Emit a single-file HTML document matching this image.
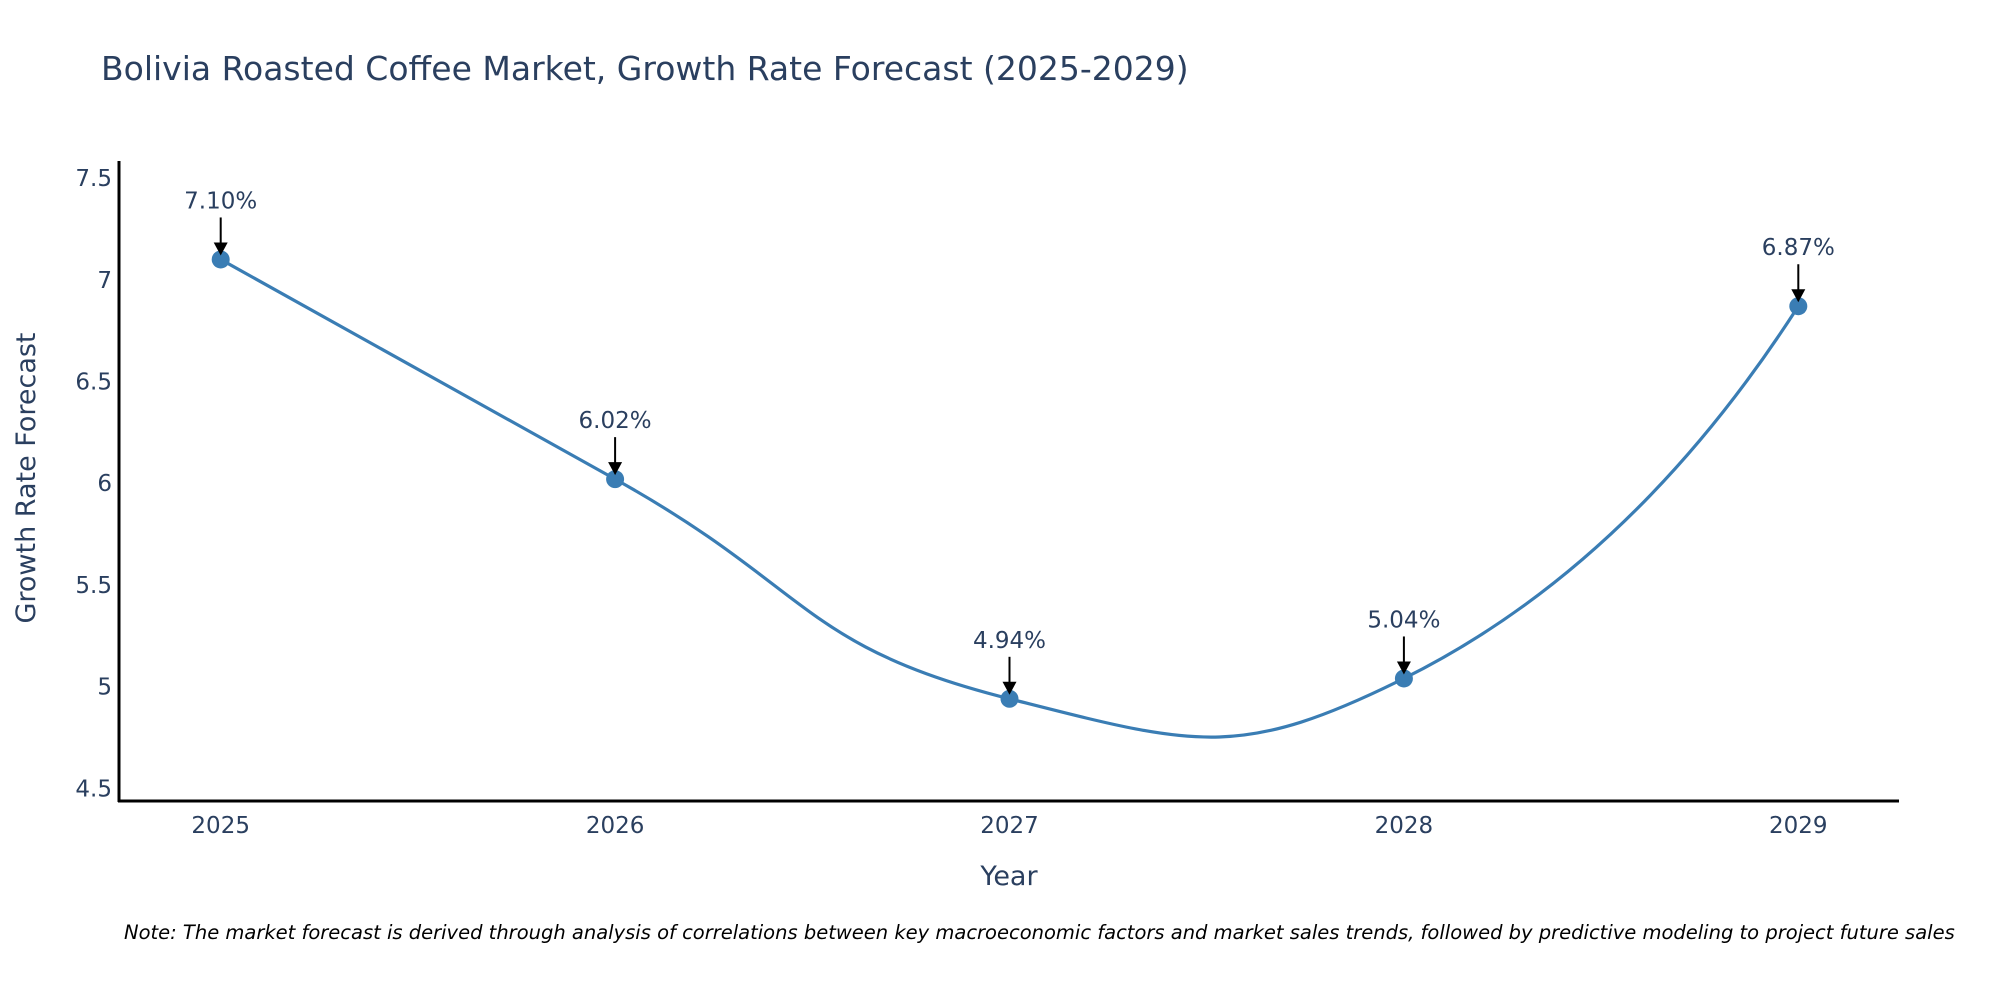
<!DOCTYPE html>
<html><head><meta charset="utf-8"><style>
body{margin:0;background:#fff;}
svg{display:block;font-family:"DejaVu Sans","Liberation Sans",sans-serif;}
</style></head><body>
<svg id="chart" width="2000" height="1000" viewBox="0 0 2000 1000">
<text x="101" y="80" font-size="33" fill="#2a3f5f">Bolivia Roasted Coffee Market, Growth Rate Forecast (2025-2029)</text>
<g id="series"></g>
<g id="annots"></g>
<line x1="119" y1="161" x2="119" y2="802" stroke="#000" stroke-width="3"/>
<line x1="118" y1="801" x2="1899" y2="801" stroke="#000" stroke-width="3"/>
<g id="yticks"></g>
<g id="xticks"></g>
<text x="1009" y="885" font-size="27" fill="#2a3f5f" text-anchor="middle">Year</text>
<text transform="translate(35,478) rotate(-90)" font-size="27" fill="#2a3f5f" text-anchor="middle">Growth Rate Forecast</text>
<text x="124" y="939" font-size="19.5" font-style="italic" fill="#000">Note: The market forecast is derived through analysis of correlations between key macroeconomic factors and market sales trends, followed by predictive modeling to project future sales</text>
</svg>
<script>
const years = [2025, 2026, 2027, 2028, 2029];
const values = [7.10, 6.02, 4.94, 5.04, 6.87];
const valueLabels = ["7.10%", "6.02%", "4.94%", "5.04%", "6.87%"];
const yTicks = [4.5, 5, 5.5, 6, 6.5, 7, 7.5];
const yTickLabels = ["4.5", "5", "5.5", "6", "6.5", "7", "7.5"];

const NS = "http://www.w3.org/2000/svg";
function xScale(y){ return 220.7 + (y - 2025) * 394.4; }
function yScale(v){ return 788.3 - (v - 4.5) * 203.4; }
function mk(tag, attrs, parent){ const e=document.createElementNS(NS,tag); for(const k in attrs) e.setAttribute(k,attrs[k]); parent.appendChild(e); return e; }

const yt=document.getElementById('yticks');
yTicks.forEach((t,i)=>{
  const e=mk('text',{x:112,y:yScale(t)+8,'font-size':23,fill:'#2a3f5f','text-anchor':'end'},yt);
  
  
  e.textContent=yTickLabels[i];
});
const xt=document.getElementById('xticks');
years.forEach(y=>{
  const e=mk('text',{x:xScale(y),y:833,'font-size':23,fill:'#2a3f5f','text-anchor':'middle'},xt);
  
  
  e.textContent=String(y);
});

const pts=years.map((y,i)=>[xScale(y),yScale(values[i])]);
// distance-weighted spline (plotly-like)
const n=pts.length, cL=[], cR=[];
const sm=0.5;
for(let i=0;i<n;i++){
  if(i===0||i===n-1){cL.push(pts[i]);cR.push(pts[i]);continue;}
  const p0=pts[i-1],p1=pts[i],p2=pts[i+1];
  const d1=Math.hypot(p1[0]-p0[0],p1[1]-p0[1]), d2=Math.hypot(p2[0]-p1[0],p2[1]-p1[1]);
  const tx=p2[0]-p0[0], ty=p2[1]-p0[1];
  const f1=sm*d1/(d1+d2), f2=sm*d2/(d1+d2);
  cL.push([p1[0]-tx*f1,p1[1]-ty*f1]);
  cR.push([p1[0]+tx*f2,p1[1]+ty*f2]);
}
let d='M'+pts[0][0]+','+pts[0][1];
for(let i=0;i<n-1;i++){
  const a=cR[i], b=cL[i+1], p=pts[i+1];
  if(i===0) d+=` Q${b[0]},${b[1]} ${p[0]},${p[1]}`;
  else if(i===n-2) d+=` Q${a[0]},${a[1]} ${p[0]},${p[1]}`;
  else d+=` C${a[0]},${a[1]} ${b[0]},${b[1]} ${p[0]},${p[1]}`;
}
const s=document.getElementById('series');
const line=mk('path',{d:d,fill:'none',stroke:'#3a7db4','stroke-width':3.2},s);


pts.forEach(p=>{
  const c=mk('circle',{cx:p[0],cy:p[1],r:9,fill:'#3a7db4'},s);
  
  
});

const an=document.getElementById('annots');
pts.forEach((p,i)=>{
  const g=mk('g',{},an);
  
  
  mk('line',{x1:p[0],y1:p[1]-42,x2:p[0],y2:p[1]-14,stroke:'#000','stroke-width':2},g);
  mk('polygon',{points:`${p[0]-7},${p[1]-17} ${p[0]+7},${p[1]-17} ${p[0]},${p[1]-4}`,fill:'#000'},g);
  const t=mk('text',{x:p[0],y:p[1]-51,'font-size':23,fill:'#2a3f5f','text-anchor':'middle'},g);
  t.textContent=valueLabels[i];
});
</script>
</body></html>
